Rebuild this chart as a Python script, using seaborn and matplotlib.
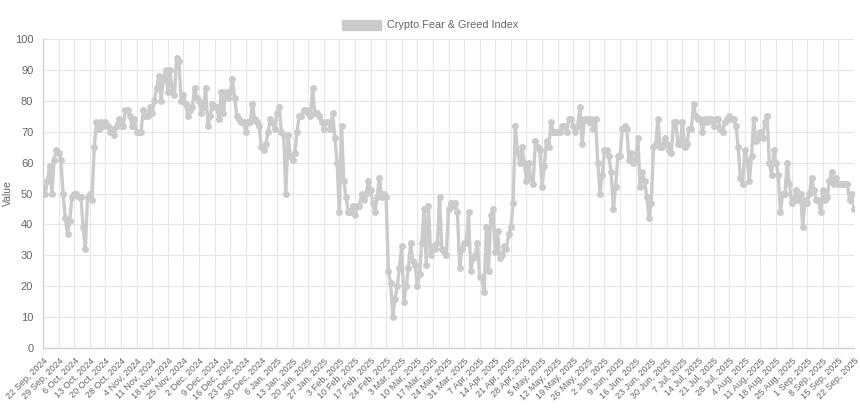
import matplotlib
matplotlib.use("Agg")
import pandas as pd
import matplotlib.pyplot as plt
import matplotlib.patches as mpatches
import seaborn as sns

# daily Crypto Fear & Greed readings, starting 22 Sep 2024
start_date = "2024-09-22"
fg_2024_q4 = [
    52, 50, 54, 59, 50, 61, 64, 63, 61, 50,
    42, 37, 41, 49, 50, 50, 49, 49, 39, 32,
    49, 50, 48, 65, 73, 71, 73, 72, 73, 72,
    70, 71, 69, 72, 74, 72, 72, 77, 77, 75,
    72, 74, 70, 70, 70, 77, 75, 75, 78,
    76, 80, 84, 88, 80, 87, 90, 83, 90, 83,
    82, 94, 93, 80, 82, 79, 75, 77, 78, 84,
    81, 80, 76, 78, 84, 72, 75, 79, 78, 78,
    74, 83, 76, 83, 81, 83, 87, 81, 75, 74,
    73, 73, 70, 73, 73, 79, 74, 73, 72, 65,
]
fg_2025_q1 = [
    64, 66, 70, 74, 73, 71, 76, 78, 70, 69,
    50, 69,
    62, 61, 63, 70, 75, 75, 77, 77, 76, 75,
    84, 76, 76, 75, 73, 71, 73, 73, 71, 76,
    68, 60, 44, 72, 54, 49, 44, 44, 46, 43,
    46, 46, 50, 48, 50, 54, 51, 47, 44, 49,
    55, 49, 50, 49,
    25, 21, 10, 16, 20, 26, 33, 15, 20, 26,
    34, 28, 27, 20, 24, 34, 45, 27, 46, 30,
    33, 32, 34, 49, 32, 31, 30, 45, 47, 46,
]
fg_2025_q2 = [
    47, 44, 26, 32, 34, 34, 44, 25, 29, 30,
    34, 23, 23, 18, 39, 25, 43, 45, 31, 38,
    29, 30, 33, 32, 37, 39, 47,
    72, 63, 60, 65, 60, 54, 60, 55, 53, 67,
    65, 64, 52, 59, 67, 65, 73, 70, 70, 70, 70,
    72, 72, 70, 74, 74, 72, 70, 72, 78, 66,
    74, 74, 73, 74, 71, 74, 60, 50, 56, 64,
    64, 62, 57, 45, 52, 62, 62, 71, 72, 71,
    61, 63, 60, 61, 68, 52, 57, 54, 49, 42,
]
fg_2025_q3 = [
    47, 65, 66, 74, 65, 65, 68, 66, 64, 63,
    73, 73, 66, 66, 73, 65, 66, 71, 71, 79,
    75, 74,
    74, 70, 74, 73, 74, 74, 72, 74, 74, 71,
    70, 73, 74, 75, 74, 74, 72, 65, 55, 53,
    64, 61, 54, 62, 74, 67, 68, 70, 68, 73,
    75, 60, 56, 64, 60, 56, 44, 50, 50, 60,
    53, 47, 48, 51, 48, 50, 39, 48, 47, 50,
    55, 51, 48, 48, 44, 51, 48, 49, 54, 57,
    53, 55, 53, 53, 53, 53, 53, 48, 50, 45,
]
tick_labels = [
    "22 Sep, 2024", "29 Sep, 2024", "6 Oct, 2024", "13 Oct, 2024", "20 Oct, 2024",
    "28 Oct, 2024", "4 Nov, 2024", "11 Nov, 2024", "18 Nov, 2024", "25 Nov, 2024",
    "2 Dec, 2024", "9 Dec, 2024", "16 Dec, 2024", "23 Dec, 2024", "30 Dec, 2024",
    "6 Jan, 2025", "13 Jan, 2025", "20 Jan, 2025", "27 Jan, 2025", "3 Feb, 2025",
    "10 Feb, 2025", "17 Feb, 2025", "24 Feb, 2025", "3 Mar, 2025", "10 Mar, 2025",
    "17 Mar, 2025", "24 Mar, 2025", "31 Mar, 2025", "7 Apr, 2025", "14 Apr, 2025",
    "21 Apr, 2025", "28 Apr, 2025", "5 May, 2025", "12 May, 2025", "19 May, 2025",
    "26 May, 2025", "2 Jun, 2025", "9 Jun, 2025", "16 Jun, 2025", "23 Jun, 2025",
    "30 Jun, 2025", "7 Jul, 2025", "14 Jul, 2025", "21 Jul, 2025", "28 Jul, 2025",
    "4 Aug, 2025", "11 Aug, 2025", "18 Aug, 2025", "25 Aug, 2025", "1 Sep, 2025",
    "8 Sep, 2025", "15 Sep, 2025", "22 Sep, 2025",
]
series_name = "Crypto Fear & Greed Index"

values = fg_2024_q4 + fg_2025_q1 + fg_2025_q2 + fg_2025_q3
df = pd.DataFrame({
    "Date": pd.date_range(start_date, periods=len(values), freq="D"),
    "Value": values,
})
tick_dates = pd.date_range(start_date, periods=len(tick_labels), freq="7D")

line_color = "#cbcbcb"
text_color = "#666666"
grid_color = "#e6e6e6"

sns.set_style("white")
plt.rcParams["font.family"] = ["Liberation Sans", "DejaVu Sans"]

fig = plt.figure(figsize=(8.6, 4.17), dpi=100)
ax = fig.add_axes([43 / 860, 1 - 348 / 417, (854 - 43) / 860, (348 - 39) / 417])

sns.lineplot(data=df, x="Date", y="Value", ax=ax, color=line_color,
             linewidth=2.4, marker="o", markersize=5, markeredgewidth=0)

ax.set_xlim(df["Date"].iloc[0], tick_dates[-1])
ax.set_ylim(0, 100)
ax.set_yticks(range(0, 101, 10))
ax.set_xticks(tick_dates)
ax.set_xticklabels(tick_labels, rotation=45, ha="right", rotation_mode="anchor")

ax.grid(True, color=grid_color, linewidth=0.8)
ax.set_axisbelow(True)
for side in ("top", "right"):
    ax.spines[side].set_visible(False)
for side in ("left", "bottom"):
    ax.spines[side].set_color("#cfcfcf")
    ax.spines[side].set_linewidth(0.9)
ax.tick_params(axis="y", colors=text_color, labelsize=8, length=5, width=0.8, pad=2)
ax.tick_params(axis="x", colors=text_color, labelsize=6.6, length=5, width=0.8, pad=1)
ax.tick_params(axis="both", color=grid_color)

ax.set_xlabel("")
ax.set_ylabel("Value", color=text_color, fontsize=7.5)
ax.yaxis.set_label_coords(-0.037, 0.5)

handle = mpatches.Patch(facecolor=line_color, edgecolor=line_color)
fig.legend([handle], [series_name], loc="center", bbox_to_anchor=(0.5, 1 - 25 / 417),
           frameon=False, fontsize=7.8, labelcolor=text_color,
           handlelength=3.6, handleheight=1.1, handletextpad=0.6)

fig.savefig("out.png", dpi=100)
